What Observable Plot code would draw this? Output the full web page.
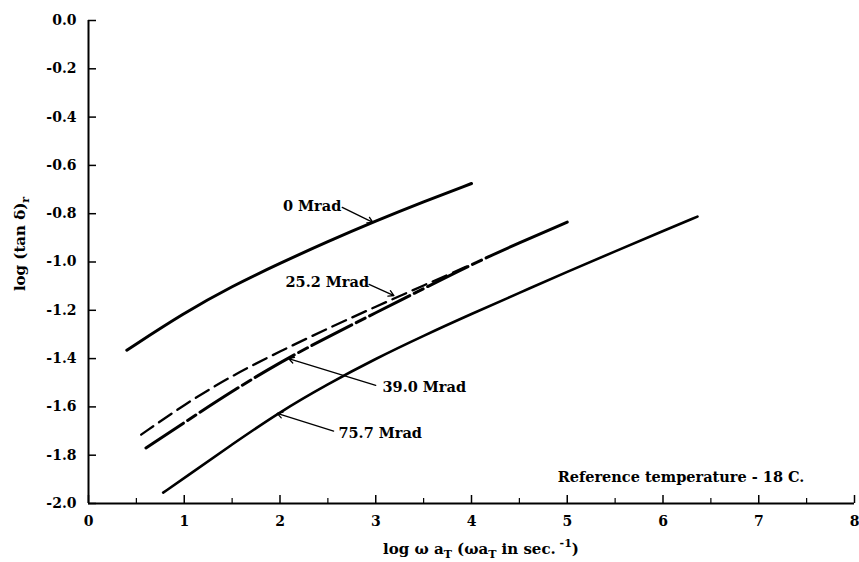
<!DOCTYPE html>
<html><head><meta charset="utf-8">
<script src="https://cdn.jsdelivr.net/npm/d3@7"></script>
<script src="https://cdn.jsdelivr.net/npm/@observablehq/plot@0.6"></script>
<style>body{margin:0;background:#fff}</style>
</head><body><div id="chart"></div>
<script>
// ---- data ----
const xTicks = [0, 1, 2, 3, 4, 5, 6, 7, 8];
const xMinorTicks = [0.5, 1.5, 2.5, 3.5, 4.5, 5.5, 6.5, 7.5];
const yTicks = [0, -0.2, -0.4, -0.6, -0.8, -1.0, -1.2, -1.4, -1.6, -1.8, -2.0];
const yTickLabels = ["0.0", "-0.2", "-0.4", "-0.6", "-0.8", "-1.0", "-1.2", "-1.4", "-1.6", "-1.8", "-2.0"];

const seriesNames = ["0 Mrad", "25.2 Mrad", "39.0 Mrad", "75.7 Mrad"];
const x0 = [0.4, 1.0, 1.5, 2.0, 2.5, 3.0, 3.5, 4.0];
const y0 = [-1.365, -1.21, -1.10, -1.005, -0.915, -0.83, -0.75, -0.675];
const x25 = [0.55, 1.0, 1.5, 2.0, 2.5, 3.0, 3.5, 4.0];
const y25 = [-1.715, -1.59, -1.47, -1.37, -1.275, -1.185, -1.097, -1.01];
const x39 = [0.6, 1.0, 1.5, 2.0, 2.5, 3.0, 3.5, 4.0, 4.5, 5.0];
const y39 = [-1.77, -1.665, -1.535, -1.415, -1.31, -1.21, -1.11, -1.01, -0.92, -0.835];
const x75 = [0.78, 1.0, 1.5, 2.0, 2.5, 3.0, 3.5, 4.0, 4.5, 5.0, 5.5, 6.0, 6.36];
const y75 = [-1.955, -1.895, -1.755, -1.62, -1.505, -1.40, -1.305, -1.215, -1.128, -1.04, -0.956, -0.872, -0.812];

const note = "Reference temperature - 18 C.";

// ---- build tables ----
const toRows = (xs, ys) => xs.map((x, i) => ({x, y: ys[i]}));
const s0 = toRows(x0, y0), s25 = toRows(x25, y25), s39 = toRows(x39, y39), s75 = toRows(x75, y75);

// annotation placement (layout)
const labelsEnd = [
  {text: seriesNames[0], x: 2.64, y: -0.770},
  {text: seriesNames[1], x: 2.93, y: -1.085}
];
const labelsStart = [
  {text: seriesNames[2], x: 3.07, y: -1.52},
  {text: seriesNames[3], x: 2.61, y: -1.71}
];
const arrows = [
  {x1: 2.65, y1: -0.774, x2: 2.97, y2: -0.836},
  {x1: 2.93, y1: -1.093, x2: 3.19, y2: -1.139},
  {x1: 3.0, y1: -1.511, x2: 2.09, y2: -1.40},
  {x1: 2.56, y1: -1.70, x2: 1.97, y2: -1.627}
];

const W = 859, H = 562, mL = 88, mR = 5, mT = 20, mB = 59;
const fw = W - mL - mR, fh = H - mT - mB;
const font = "'DejaVu Serif', serif";
// long-dash / short-dash pattern that turns solid near the merge point
const dash39 = Array(6).fill("45,5,10,5").join(",") + ",2000,0";

const plot = Plot.plot({
  width: W, height: H,
  marginLeft: mL, marginRight: mR, marginTop: mT, marginBottom: mB,
  style: {fontFamily: font, fontSize: "14px", fontWeight: "bold", background: "#fff"},
  x: {domain: [0, 8], axis: null},
  y: {domain: [-2, 0], axis: null},
  marks: [
    // ticks
    Plot.gridY(yTicks, {stroke: "#000", strokeOpacity: 1, strokeWidth: 1.5, insetRight: fw - 8}),
    Plot.gridX(xTicks, {stroke: "#000", strokeOpacity: 1, strokeWidth: 1.5, insetTop: fh - 8}),
    Plot.gridX(xMinorTicks, {stroke: "#000", strokeOpacity: 1, strokeWidth: 1.2, insetTop: fh - 5}),
    Plot.ruleX([0], {stroke: "#000", strokeWidth: 2}),
    Plot.ruleY([-2], {stroke: "#000", strokeWidth: 2}),
    // tick labels
    Plot.text(yTicks, {x: 0, y: d => d, text: (d, i) => yTickLabels[i], textAnchor: "end", dx: -12, fontSize: 14, fontWeight: "bold", fill: "#000"}),
    Plot.text(xTicks, {x: d => d, y: -2, text: d => String(d), dy: 18, fontSize: 14, fontWeight: "bold", fill: "#000"}),
    // curves
    Plot.line(s0, {x: "x", y: "y", curve: "basis", stroke: "#000", strokeWidth: 3}),
    Plot.line(s25, {x: "x", y: "y", curve: "basis", stroke: "#000", strokeWidth: 2.3, strokeDasharray: "15,7"}),
    Plot.line(s39, {x: "x", y: "y", curve: "basis", stroke: "#000", strokeWidth: 3, strokeDasharray: dash39}),
    Plot.line(s75, {x: "x", y: "y", curve: "basis", stroke: "#000", strokeWidth: 2.6}),
    // annotations
    Plot.arrow(arrows, {x1: "x1", y1: "y1", x2: "x2", y2: "y2", stroke: "#000", strokeWidth: 1.3, headLength: 7, bend: 0}),
    Plot.text(labelsEnd, {x: "x", y: "y", text: "text", textAnchor: "end", fontSize: 14.5, fontWeight: "bold", fill: "#000"}),
    Plot.text(labelsStart, {x: "x", y: "y", text: "text", textAnchor: "start", fontSize: 14.5, fontWeight: "bold", fill: "#000"}),
    Plot.text([note], {x: 4.9, y: -1.892, text: d => d, textAnchor: "start", fontSize: 14.5, fontWeight: "bold", fill: "#000"})
  ]
});
document.getElementById("chart").appendChild(plot);

// axis titles with sub/superscripts
const svg = d3.select(plot);
const xt = svg.append("text")
  .attr("x", 481).attr("y", 554).attr("text-anchor", "middle")
  .attr("font-family", font).attr("font-size", 15).attr("font-weight", "bold").attr("fill", "#000");
xt.append("tspan").text("log ω a");
xt.append("tspan").attr("font-size", 11).attr("dy", 4).text("T");
xt.append("tspan").attr("dy", -4).text(" (ωa");
xt.append("tspan").attr("font-size", 11).attr("dy", 4).text("T");
xt.append("tspan").attr("dy", -4).text(" in sec.");
xt.append("tspan").attr("font-size", 11).attr("dy", -7).text(" -1");
xt.append("tspan").attr("dy", 7).text(")");

const yt = svg.append("text")
  .attr("transform", "translate(25,244) rotate(-90)").attr("text-anchor", "middle")
  .attr("font-family", font).attr("font-size", 15).attr("font-weight", "bold").attr("fill", "#000");
yt.append("tspan").text("log (tan δ)");
yt.append("tspan").attr("font-size", 11).attr("dy", 4).text("r");
</script>
</body></html>
